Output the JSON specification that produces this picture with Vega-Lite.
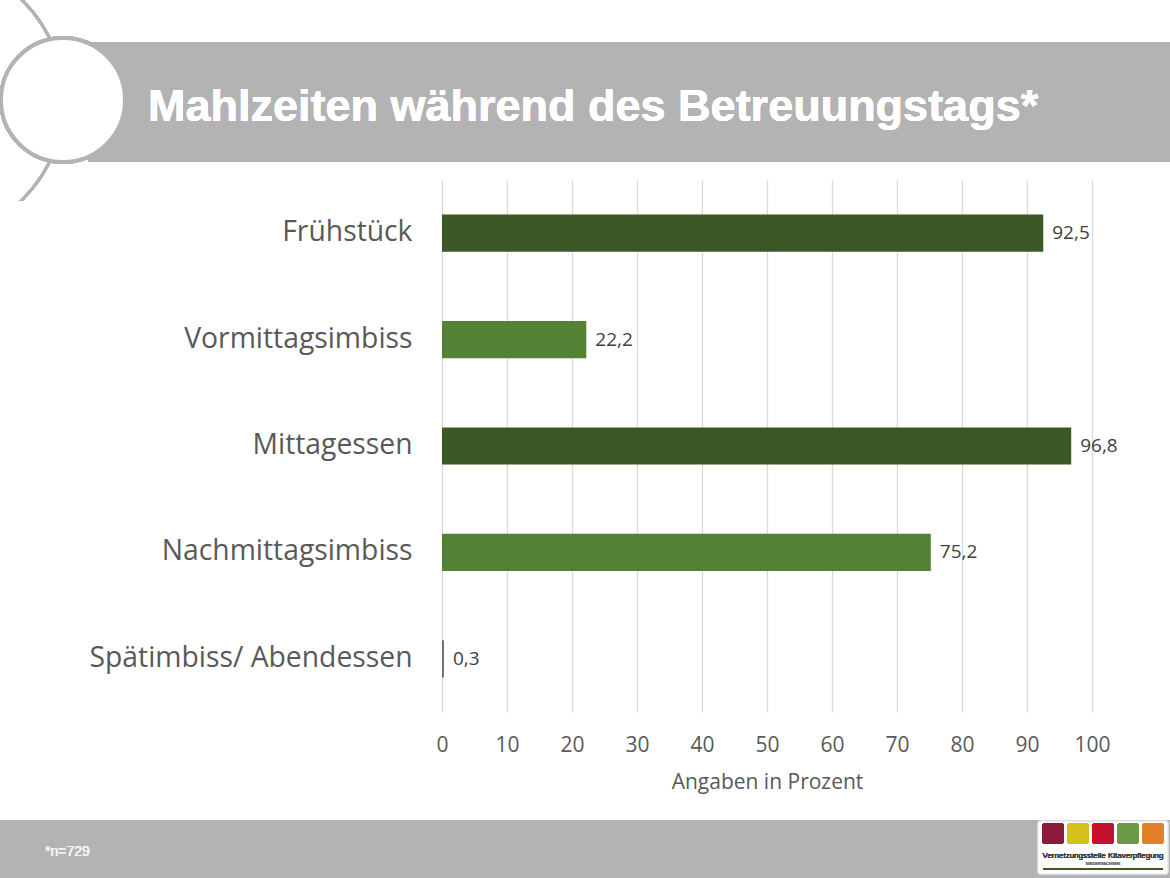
{
  "$schema": "https://vega.github.io/schema/vega-lite/v6.json",
  "width": 650,
  "height": 532,
  "autosize": "none",
  "padding": {"left": 442, "top": 180, "right": 78, "bottom": 166},
  "background": "white",
  "config": {"view": {"stroke": null}},
  "data": {"values": [
    {"Mahlzeit": "Frühstück", "Prozent": 92.5, "label": "92,5", "Typ": "dunkel"},
    {"Mahlzeit": "Vormittagsimbiss", "Prozent": 22.2, "label": "22,2", "Typ": "hell"},
    {"Mahlzeit": "Mittagessen", "Prozent": 96.8, "label": "96,8", "Typ": "dunkel"},
    {"Mahlzeit": "Nachmittagsimbiss", "Prozent": 75.2, "label": "75,2", "Typ": "hell"},
    {"Mahlzeit": "Spätimbiss/ Abendessen", "Prozent": 0.3, "label": "0,3", "Typ": "grau"}
  ]},
  "layer": [
    {
      "mark": {"type": "rect", "color": "#b3b3b3"},
      "encoding": {"x": {"value": -354}, "x2": {"value": 728}, "y": {"value": -138}, "y2": {"value": -18}}
    },
    {
      "mark": {"type": "point", "shape": "circle", "filled": false, "stroke": "#b3b3b3", "strokeWidth": 3, "size": 78400, "opacity": 1},
      "encoding": {"x": {"value": -518}, "y": {"value": -80}}
    },
    {
      "mark": {"type": "rect", "color": "white"},
      "encoding": {"x": {"value": -442}, "x2": {"value": -395}, "y": {"value": 21}, "y2": {"value": 60}}
    },
    {
      "mark": {"type": "point", "shape": "circle", "filled": true, "fill": "white", "stroke": "#b3b3b3", "strokeWidth": 4, "size": 15376, "opacity": 1},
      "encoding": {"x": {"value": -379}, "y": {"value": -80}}
    },
    {
      "mark": {"type": "text", "text": "Mahlzeiten während des Betreuungstags*", "font": "Liberation Sans", "fontWeight": "bold", "fontSize": 45, "fill": "white", "strokeWidth": 0, "align": "left", "baseline": "alphabetic"},
      "encoding": {"x": {"value": -294}, "y": {"value": -59}}
    },
    {
      "mark": {"type": "rect", "color": "#b3b3b3"},
      "encoding": {"x": {"value": -442}, "x2": {"value": 728}, "y": {"value": 640}, "y2": {"value": 698}}
    },
    {
      "mark": {"type": "text", "text": "*n=729", "font": "Liberation Sans Narrow, Liberation Sans", "fontSize": 14, "fill": "#f2f2f2", "strokeWidth": 0, "align": "left", "baseline": "middle"},
      "encoding": {"x": {"value": -397}, "y": {"value": 672}}
    },
    {
      "mark": {"type": "rect", "color": "white", "stroke": "#dddddd", "cornerRadius": 2},
      "encoding": {"x": {"value": 596}, "x2": {"value": 726}, "y": {"value": 641}, "y2": {"value": 694}}
    },
    {
      "mark": {"type": "rect", "fill": "#8b1a3a", "cornerRadius": 3},
      "encoding": {"x": {"value": 600}, "x2": {"value": 622}, "y": {"value": 643}, "y2": {"value": 664}}
    },
    {
      "mark": {"type": "rect", "fill": "#d4c21c", "cornerRadius": 3},
      "encoding": {"x": {"value": 625}, "x2": {"value": 647}, "y": {"value": 643}, "y2": {"value": 664}}
    },
    {
      "mark": {"type": "rect", "fill": "#c4122e", "cornerRadius": 3},
      "encoding": {"x": {"value": 650}, "x2": {"value": 672}, "y": {"value": 643}, "y2": {"value": 664}}
    },
    {
      "mark": {"type": "rect", "fill": "#6f9a45", "cornerRadius": 3},
      "encoding": {"x": {"value": 675}, "x2": {"value": 697}, "y": {"value": 643}, "y2": {"value": 664}}
    },
    {
      "mark": {"type": "rect", "fill": "#e2812a", "cornerRadius": 3},
      "encoding": {"x": {"value": 700}, "x2": {"value": 722}, "y": {"value": 643}, "y2": {"value": 664}}
    },
    {
      "mark": {"type": "text", "text": "Vernetzungsstelle Kitaverpflegung", "font": "Liberation Sans Narrow, Liberation Sans", "fontSize": 8, "fill": "#444444", "strokeWidth": 0, "align": "center", "baseline": "middle"},
      "encoding": {"x": {"value": 661}, "y": {"value": 676}}
    },
    {
      "mark": {"type": "text", "text": "NIEDERSACHSEN", "font": "Liberation Sans", "fontSize": 4, "fill": "#777777", "strokeWidth": 0, "align": "center", "baseline": "middle"},
      "encoding": {"x": {"value": 661}, "y": {"value": 684}}
    },
    {
      "mark": {"type": "rect", "color": "#3b5723"},
      "encoding": {"x": {"value": 601}, "x2": {"value": 721}, "y": {"value": 688}, "y2": {"value": 690}}
    },
    {
      "mark": {"type": "bar"},
      "encoding": {
        "y": {
          "field": "Mahlzeit", "type": "nominal", "sort": null,
          "scale": {"paddingInner": 0.65, "paddingOuter": 0.325},
          "axis": {"title": null, "domain": false, "ticks": false, "labelFont": "Open Sans", "labelFontSize": 28.3, "labelColor": "#595959", "labelPadding": 30, "labelLimit": 400}
        },
        "x": {
          "field": "Prozent", "type": "quantitative",
          "scale": {"domain": [0, 100], "nice": false},
          "axis": {"values": [0, 10, 20, 30, 40, 50, 60, 70, 80, 90, 100], "labelFlush": false, "title": "Angaben in Prozent", "titleFont": "Open Sans", "titleFontSize": 21, "titleFontWeight": "normal", "titleColor": "#595959", "titlePadding": 16, "labelFont": "Open Sans", "labelFontSize": 21, "labelColor": "#595959", "labelPadding": 22, "domain": false, "ticks": false, "grid": true, "gridColor": "#d9d9d9", "gridWidth": 1.3}
        },
        "color": {
          "field": "Typ", "type": "nominal", "legend": null,
          "scale": {"domain": ["dunkel", "hell", "grau"], "range": ["#3b5723", "#548235", "#6e7460"]}
        }
      }
    },
    {
      "mark": {"type": "text", "align": "left", "baseline": "middle", "dx": 9, "font": "Open Sans", "fontSize": 19, "color": "#404040"},
      "encoding": {
        "y": {"field": "Mahlzeit", "type": "nominal", "sort": null},
        "x": {"field": "Prozent", "type": "quantitative"},
        "text": {"field": "label"}
      }
    }
  ]
}
